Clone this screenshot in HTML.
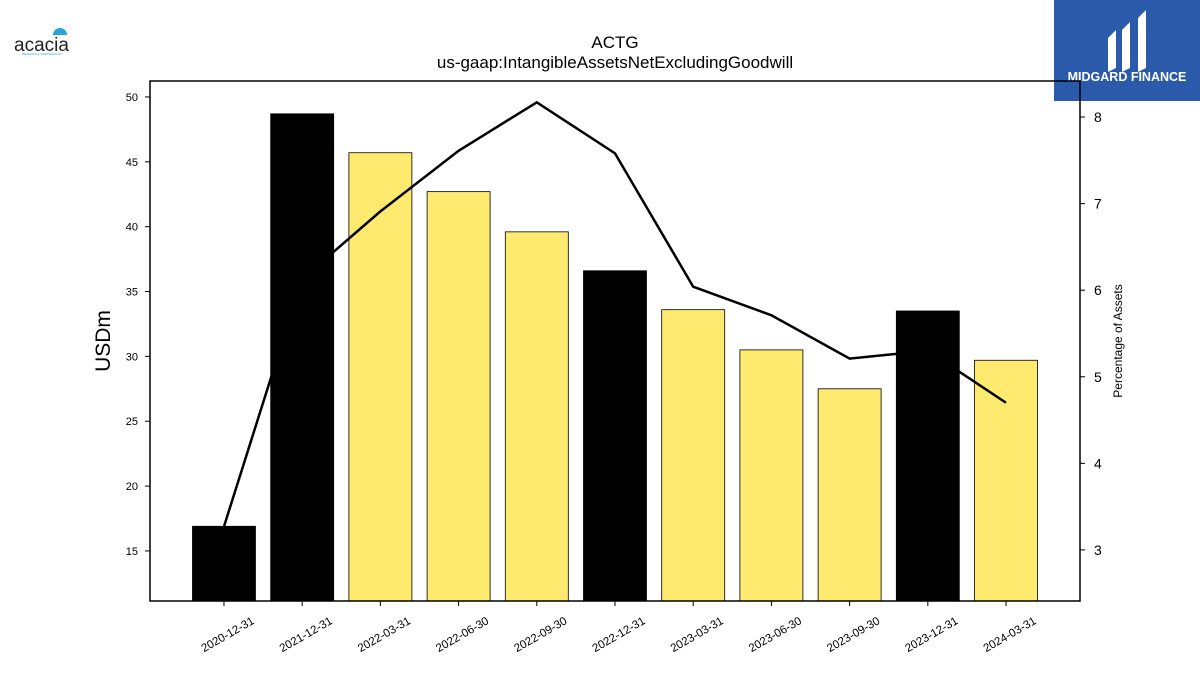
<!DOCTYPE html>
<html><head><meta charset="utf-8"><style>
body{margin:0;background:#fff;font-family:"Liberation Sans","DejaVu Sans",sans-serif}
#wrap{position:relative;width:1200px;height:675px;overflow:hidden}
</style></head><body>
<div id="wrap">
<svg id="chart" width="1200" height="675">
<g>
<text x="14" y="51" font-size="19" fill="#222">acacia</text>
<path d="M53 35 a7 7 0 0 1 14 0 z" fill="#29a3dc"/>
<text x="22" y="55" font-size="3" fill="#29a3dc">RESEARCH CORPORATION</text>
</g>
<g>
<rect x="1054" y="0" width="146" height="101" fill="#2b5aab"/>
<path d="M1108 38 l8 -8 v38 l-8 4z M1122 30 l8 -8 v46 l-8 4z M1138 18 l8 -8 v58 l-8 4z" fill="#fff"/>
<text x="1127" y="81" font-size="12.5" font-weight="bold" fill="#fff" text-anchor="middle">MIDGARD FINANCE</text>
</g>
<text x="615" y="48" font-size="17" text-anchor="middle">ACTG</text>
<text x="615" y="68" font-size="17" text-anchor="middle">us-gaap:IntangibleAssetsNetExcludingGoodwill</text>
<text transform="translate(110,341) rotate(-90)" font-size="21" text-anchor="middle">USDm</text>
<text transform="translate(1122,341) rotate(-90)" font-size="12" text-anchor="middle">Percentage of Assets</text>
<g id="marks"></g>
<rect x="150" y="81" width="930" height="520" fill="none" stroke="#000" stroke-width="1.5"/>
</svg>
</div>
<script>
const categories=["2020-12-31","2021-12-31","2022-03-31","2022-06-30","2022-09-30","2022-12-31","2023-03-31","2023-06-30","2023-09-30","2023-12-31","2024-03-31"];
const barValues=[16.9,48.7,45.7,42.7,39.6,36.6,33.6,30.5,27.5,33.5,29.7];
const annual=[true,true,false,false,false,true,false,false,false,true,false];
const pctValues=[3.27,6.13,6.91,7.61,8.17,7.58,6.04,5.71,5.21,5.3,4.70];
const leftTicks=[15,20,25,30,35,40,45,50];
const rightTicks=[3,4,5,6,7,8];
const NS="http://www.w3.org/2000/svg";
const L=150,R=1080,T=81,B=601;
const x=i=>L+(i+0.946)/(11.892)*(R-L);
const y=v=>B-(v-11.14)/(51.23-11.14)*(B-T);
const y2=v=>B-(v-2.41)/(8.416-2.41)*(B-T);
const g=document.getElementById('marks');
function mk(t,a){const e=document.createElementNS(NS,t);for(const k in a)e.setAttribute(k,a[k]);g.appendChild(e);return e;}
const bw=63;
barValues.forEach((v,i)=>{
const r=mk('rect',{x:x(i)-bw/2,y:y(v),width:bw,height:B-y(v),fill:annual[i]?'#000':'#fdea6f',stroke:'#000','stroke-width':0.8});


});
const pl=mk('polyline',{points:pctValues.map((v,i)=>x(i)+','+y2(v)).join(' '),fill:'none',stroke:'#000','stroke-width':2.5});


leftTicks.forEach(t=>{
const l=mk('line',{x1:L-5,x2:L,y1:y(t),y2:y(t),stroke:'#000'});


const tx=mk('text',{x:L-12,y:y(t)+4,'font-size':11,'text-anchor':'end'});tx.textContent=t;


});
rightTicks.forEach(t=>{
const l=mk('line',{x1:R,x2:R+5,y1:y2(t),y2:y2(t),stroke:'#000'});


const tx=mk('text',{x:R+14,y:y2(t)+5,'font-size':14});tx.textContent=t;


});
categories.forEach((c,i)=>{
const l=mk('line',{x1:x(i),x2:x(i),y1:B,y2:B+5,stroke:'#000'});


const tx=mk('text',{transform:'translate('+(x(i)+31)+','+(B+22)+') rotate(-30)','font-size':11.5,'text-anchor':'end'});tx.textContent=c;


});
</script>
</body></html>
